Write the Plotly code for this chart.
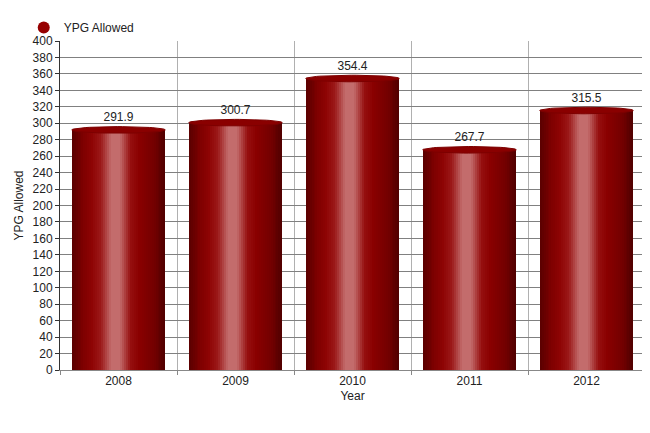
import plotly.graph_objects as go
import numpy as np

years = ["2008", "2009", "2010", "2011", "2012"]
ypg_allowed = [291.9, 300.7, 354.4, 267.7, 315.5]
series_name = "YPG Allowed"

# horizontal shading profile of the cylinder (position fraction, rgb)
stops = [(0.0, (90, 0, 0)), (0.12, (125, 0, 0)), (0.22, (142, 4, 4)),
         (0.31, (155, 25, 25)), (0.42, (195, 108, 108)), (0.52, (195, 108, 108)),
         (0.63, (150, 15, 15)), (0.72, (138, 0, 0)), (0.88, (115, 0, 0)), (1.0, (80, 0, 0))]

def shade(t):
    for (t0, c0), (t1, c1) in zip(stops[:-1], stops[1:]):
        if t0 <= t <= t1:
            f = (t - t0) / (t1 - t0)
            c = [round(a + (b - a) * f) for a, b in zip(c0, c1)]
            return f"rgb({c[0]},{c[1]},{c[2]})"
    return "rgb(80,0,0)"

xpos = list(range(len(years)))
bar_w = 0.8
N = 48
sw = bar_w / N

fig = go.Figure()
for k in range(N):
    off = -bar_w / 2 + k * sw
    w = min(sw * 1.5, bar_w / 2 - off)
    fig.add_trace(go.Bar(
        x=xpos, y=ypg_allowed, offset=off, width=w,
        marker=dict(color=shade((k + 0.5) / N), line=dict(width=0)),
        showlegend=False, hoverinfo="skip"))

# elliptical caps
b = 4.0
th = np.linspace(0, 2 * np.pi, 60)
cx, cy = [], []
for i, v in zip(xpos, ypg_allowed):
    cx += list(i + bar_w / 2 * np.cos(th)) + [None]
    cy += list(v + b * np.sin(th)) + [None]
fig.add_trace(go.Scatter(x=cx, y=cy, mode="lines", fill="toself",
                         fillcolor="rgb(138,0,0)", line=dict(color="rgb(125,0,0)", width=1),
                         showlegend=False, hoverinfo="skip"))

# value labels
fig.add_trace(go.Scatter(x=xpos, y=[v + b + 3 for v in ypg_allowed], mode="text",
                         text=[f"{v:.1f}" for v in ypg_allowed], textposition="top center",
                         textfont=dict(size=12, color="#222"), showlegend=False, hoverinfo="skip"))

# legend entry
fig.add_trace(go.Scatter(x=[None], y=[None], mode="markers", name=series_name,
                         marker=dict(symbol="circle", size=12, color="rgb(150,0,0)")))

fig.update_layout(
    width=642, height=425,
    margin=dict(l=52, r=5, t=26, b=63),
    paper_bgcolor="white", plot_bgcolor="white",
    font=dict(family="Liberation Sans, Arial, sans-serif", size=12, color="#222"),
    barmode="overlay", bargap=0,
    showlegend=True,
    legend=dict(orientation="h", x=-0.062, xanchor="left", y=1.085, yanchor="top",
                font=dict(size=12, color="#222"), bgcolor="rgba(0,0,0,0)",
                itemsizing="constant", itemwidth=30),
    xaxis=dict(range=[-0.5, len(years) - 0.5], tickmode="array", tickvals=xpos, ticktext=years,
               showgrid=False, zeroline=False, showline=True, linecolor="#888", linewidth=1,
               ticks="", tickfont=dict(size=12, color="#222"),
               minor=dict(tickmode="array", tickvals=[i - 0.5 for i in range(len(years) + 1)],
                          showgrid=True, gridcolor="#b0b0b0", gridwidth=1,
                          ticks="outside", ticklen=4, tickcolor="#888"),
               title=dict(text="Year", font=dict(size=12, color="#222"), standoff=4)),
    yaxis=dict(range=[0, 400], dtick=20, showgrid=True, gridcolor="#808080", gridwidth=1,
               zeroline=False, showline=True, linecolor="#333", linewidth=1,
               ticks="outside", ticklen=4, tickcolor="#333",
               tickfont=dict(size=12, color="#222"),
               title=dict(text=series_name, font=dict(size=12, color="#222"), standoff=6)),
)

fig.write_html("out.html")
